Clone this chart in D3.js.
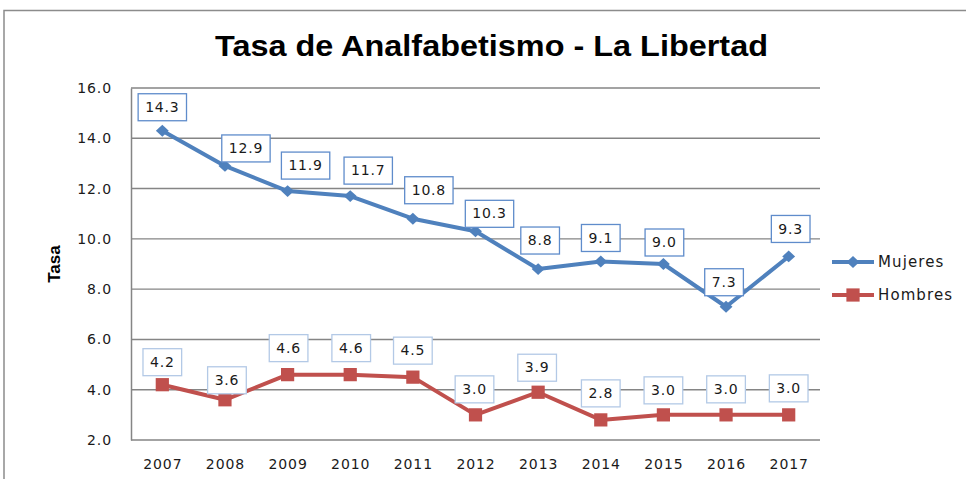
<!DOCTYPE html>
<html>
<head>
    <title>Tasa de Analfabetismo - La Libertad</title>
    <script src="https://d3js.org/d3.v7.min.js"></script>
    <style>
      body { margin: 0; background: #fff; }
    </style>
</head>
<body>
    <div id="chart"></div>
    <script>

const years = ["2007", "2008", "2009", "2010", "2011", "2012", "2013", "2014", "2015", "2016", "2017"];
const mujeres = [14.3, 12.9, 11.9, 11.7, 10.8, 10.3, 8.8, 9.1, 9.0, 7.3, 9.3];
const hombres = [4.2, 3.6, 4.6, 4.6, 4.5, 3.0, 3.9, 2.8, 3.0, 3.0, 3.0];
const yTicks = [2, 4, 6, 8, 10, 12, 14, 16];

// hand-placed label offsets (px), like the moved labels in the original
const nudgeM = [[0,-24],[21,-18],[18,-26],[18,-26],[16,-29],[14,-18],[2,-29],[0,-24],[1,-22],[-2,-25],[2,-28]];
const nudgeH = [[0,-23],[2,-20],[1,-27],[1,-27],[0,-27],[-1,-26],[-1,-25],[0,-27],[0,-25],[0,-26],[0,-27]];

const width = 966, height = 479;
const plot = {left: 131, right: 820, top: 88, bottom: 440};
const font = "'DejaVu Sans', Verdana, sans-serif";

// wide, flat diamond like the office marker
const diamond = {
  draw(ctx, size) {
    const w = Math.sqrt(size) * 0.6, h = Math.sqrt(size) * 0.55;
    ctx.moveTo(0, -h); ctx.lineTo(w, 0); ctx.lineTo(0, h); ctx.lineTo(-w, 0); ctx.closePath();
  }
};

const series = [
  {name: "Mujeres", values: mujeres, color: "#4F81BD", box: "#5f8ccb", nudge: nudgeM, symbol: d3.symbol().type(diamond).size(115)},
  {name: "Hombres", values: hombres, color: "#C0504D", box: "#b3c9e6", nudge: nudgeH, symbol: d3.symbol().type(d3.symbolSquare).size(175)}
];

const svg = d3.select("#chart").append("svg")
    .attr("width", width)
    .attr("height", height)
    .attr("font-family", font);

// chart area border
svg.append("path")
    .attr("d", `M4,${height} V10.5 H${width}`)
    .attr("fill", "none")
    .attr("stroke", "#8c8c8c")
    .attr("stroke-width", 1.5);

const x = d3.scalePoint()
    .domain(years)
    .range([plot.left, plot.right])
    .padding(0.5);

const y = d3.scaleLinear()
    .domain([2, 16])
    .range([plot.bottom, plot.top]);

// gridlines
svg.append("g")
    .selectAll("line")
    .data(yTicks)
    .join("line")
      .attr("x1", plot.left)
      .attr("x2", plot.right)
      .attr("y1", d => y(d))
      .attr("y2", d => y(d))
      .attr("stroke", "#858585")
      .attr("stroke-width", 1.4);

// y axis
const yAxis = svg.append("g")
    .attr("transform", `translate(${plot.left},0)`)
    .call(d3.axisLeft(y).tickValues(yTicks).tickFormat(d3.format(".1f")).tickSize(0).tickPadding(19));
yAxis.select(".domain").attr("stroke", "#858585").attr("stroke-width", 1.5);
yAxis.selectAll("text")
    .attr("font-size", 14).attr("letter-spacing", 0.9)
    .attr("fill", "#1a1a1a").attr("font-family", font);

// x axis
const xAxis = svg.append("g")
    .attr("transform", `translate(0,${plot.bottom})`)
    .call(d3.axisBottom(x).tickSize(0).tickPadding(19));
xAxis.select(".domain").remove();
xAxis.selectAll("text")
    .attr("font-size", 14).attr("letter-spacing", 0.9)
    .attr("fill", "#1a1a1a").attr("font-family", font);

// axis title
svg.append("text")
    .attr("transform", `translate(60,${(plot.top + plot.bottom) / 2}) rotate(-90)`)
    .attr("text-anchor", "middle")
    .attr("font-family", "'Liberation Sans', Arial, sans-serif")
    .attr("font-weight", "bold")
    .attr("font-size", 17)
    .text("Tasa");

// title
svg.append("text")
    .attr("x", 215)
    .attr("y", 56)
    .attr("font-family", "'Liberation Sans Narrow', 'Liberation Sans', sans-serif")
    .attr("font-weight", "bold")
    .attr("font-size", 30)
    .attr("textLength", 553)
    .attr("lengthAdjust", "spacingAndGlyphs")
    .text("Tasa de Analfabetismo - La Libertad");

const line = d3.line()
    .x((d, i) => x(years[i]))
    .y(d => y(d));

for (const s of series) {
  const g = svg.append("g");
  g.append("path")
      .attr("d", line(s.values))
      .attr("fill", "none")
      .attr("stroke", s.color)
      .attr("stroke-width", 4)
      .attr("stroke-linejoin", "round");

  g.selectAll(".mark")
    .data(s.values)
    .join("path")
      .attr("transform", (d, i) => `translate(${x(years[i])},${y(d)})`)
      .attr("d", s.symbol)
      .attr("fill", s.color);

  const lab = g.selectAll(".lab")
    .data(s.values)
    .join("g")
      .attr("transform", (d, i) => `translate(${x(years[i]) + s.nudge[i][0]},${y(d) + s.nudge[i][1]})`);

  lab.append("text")
      .attr("text-anchor", "middle")
      .attr("dy", "0.36em")
      .attr("font-size", 14)
      .attr("letter-spacing", 0.8)
      .attr("fill", "#1a1a1a")
      .text(d => d3.format(".1f")(d))
      .each(function() {
        const w = this.getComputedTextLength() + 14;
        d3.select(this.parentNode).insert("rect", "text")
            .attr("x", -w / 2)
            .attr("y", -13)
            .attr("width", w)
            .attr("height", 27)
            .attr("fill", "#fff")
            .attr("stroke", s.box)
            .attr("stroke-width", 1.3);
      });
}

// legend
const legend = svg.append("g")
    .selectAll("g")
    .data(series)
    .join("g")
      .attr("transform", (d, i) => `translate(832,${262 + i * 33})`);

legend.append("line")
    .attr("x1", 0)
    .attr("x2", 42)
    .attr("stroke", d => d.color)
    .attr("stroke-width", 4);

legend.append("path")
    .attr("transform", "translate(21,0)")
    .attr("d", d => d.symbol())
    .attr("fill", d => d.color);

legend.append("text")
    .attr("x", 46)
    .attr("dy", "0.36em")
    .attr("font-size", 15)
    .attr("letter-spacing", 1.1)
    .attr("fill", "#1a1a1a")
    .text(d => d.name);

    </script>
</body>
</html>
